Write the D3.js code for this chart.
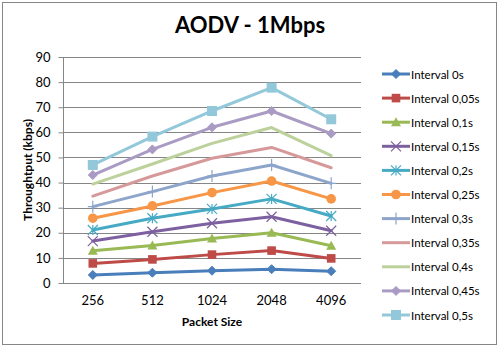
<!DOCTYPE html>
<html><head><meta charset="utf-8">
<script src="https://cdn.jsdelivr.net/npm/d3@7"></script>
<style>body{margin:0;background:#fff}svg{display:block}text{font-family:Lato,"Open Sans",sans-serif}</style>
</head><body>
<svg id="c" width="500" height="348"></svg>
<script>
const categories = ["256","512","1024","2048","4096"];
const seriesNames = ["Interval 0s","Interval 0,05s","Interval 0,1s","Interval 0,15s","Interval 0,2s","Interval 0,25s","Interval 0,3s","Interval 0,35s","Interval 0,4s","Interval 0,45s","Interval 0,5s"];
const s0   = [3.2, 4.1, 4.9, 5.5, 4.7];
const s005 = [7.8, 9.4, 11.3, 12.9, 9.8];
const s01  = [12.8, 14.9, 17.7, 20.0, 14.8];
const s015 = [16.7, 20.4, 23.8, 26.4, 20.8];
const s02  = [21.1, 25.8, 29.5, 33.5, 26.7];
const s025 = [25.8, 30.7, 36.0, 40.6, 33.5];
const s03  = [30.4, 36.4, 42.6, 47.0, 39.7];
const s035 = [34.6, 42.6, 49.7, 54.0, 45.9];
const s04  = [39.4, 47.4, 55.6, 61.9, 50.7];
const s045 = [43.0, 53.2, 62.0, 68.5, 59.5];
const s05  = [47.0, 58.3, 68.5, 77.8, 65.2];
const yTicks = [0,10,20,30,40,50,60,70,80,90];
const colors = ["#4A7EBB","#BE4B48","#98B954","#7D60A0","#46AAC5","#F79646","#8DA5CB","#D6999A","#BCD19B","#A99BC3","#93C8DA"];
const markers = ["diamond","square","triangle","x","asterisk","circle","plus","none","none","diamond","square"];
const allSeries = [s0,s005,s01,s015,s02,s025,s03,s035,s04,s045,s05];

const svg = d3.select("#c");
svg.append("rect").attr("x",2.5).attr("y",2.5).attr("width",494).attr("height",342)
  .attr("fill","#fff").attr("stroke","#868686").attr("stroke-width",1);

const pL=63, pR=361, pT=57, pB=283;
const x = d3.scaleBand().domain(categories).range([pL,pR]);
const y = d3.scaleLinear().domain([0,90]).range([pB,pT]);

// gridlines
svg.append("g").selectAll("line").data(yTicks).join("line")
  .attr("x1",pL).attr("x2",pR).attr("y1",d=>Math.round(y(d))+0.5).attr("y2",d=>Math.round(y(d))+0.5)
  .attr("stroke","#868686").attr("stroke-width",1);

// y axis
const yAxis = svg.append("g").attr("transform",`translate(${pL+0.5},0)`)
  .call(d3.axisLeft(y).tickValues(yTicks).tickSize(5).tickPadding(8));
yAxis.select(".domain").attr("stroke","#868686").attr("d",`M0,${pT}V${pB}`);
yAxis.selectAll(".tick line").attr("stroke","#868686");
yAxis.selectAll("text").attr("font-size",13).attr("fill","#000").style("font-family","Lato");

// x axis
const xAxis = svg.append("g").attr("transform",`translate(0,${pB+0.5})`)
  .call(d3.axisBottom(x).tickSize(0).tickPadding(12));
xAxis.select(".domain").attr("stroke","#868686").attr("d",`M${pL},0H${pR}`);
xAxis.selectAll("text").attr("font-size",13).attr("fill","#000").style("font-family","Lato");

// titles
svg.append("text").attr("x",250).attr("y",33).attr("text-anchor","middle")
  .attr("font-size",22).attr("font-weight","bold").text("AODV - 1Mbps");
svg.append("text").attr("x",212).attr("y",326).attr("text-anchor","middle")
  .attr("font-size",12).attr("font-weight","bold").text("Packet Size");
svg.append("text").attr("transform",`translate(32,170) rotate(-90)`).attr("text-anchor","middle")
  .attr("font-size",12).attr("font-weight","bold").text("Throughtput (kbps)");

function drawMarker(g, type, cx, cy, color, big){
  const s = big ? 5 : 4.5;
  if(type==="diamond"){
    g.append("path").attr("d",`M${cx},${cy-s}L${cx+s},${cy}L${cx},${cy+s}L${cx-s},${cy}Z`).attr("fill",color).attr("stroke",color);
  } else if(type==="square"){
    const h = big?5:4.3;
    g.append("rect").attr("x",cx-h).attr("y",cy-h).attr("width",2*h).attr("height",2*h).attr("fill",color);
  } else if(type==="triangle"){
    g.append("path").attr("d",`M${cx},${cy-5}L${cx+5},${cy+4}L${cx-5},${cy+4}Z`).attr("fill",color);
  } else if(type==="x"){
    g.append("path").attr("d",`M${cx-5},${cy-5}L${cx+5},${cy+5}M${cx-5},${cy+5}L${cx+5},${cy-5}`).attr("stroke",color).attr("stroke-width",1.2);
  } else if(type==="asterisk"){
    g.append("path").attr("d",`M${cx-5},${cy-5}L${cx+5},${cy+5}M${cx-5},${cy+5}L${cx+5},${cy-5}M${cx},${cy-5}V${cy+5}`).attr("stroke",color).attr("stroke-width",1.2);
  } else if(type==="circle"){
    g.append("circle").attr("cx",cx).attr("cy",cy).attr("r",4.8).attr("fill",color);
  } else if(type==="plus"){
    g.append("path").attr("d",`M${cx},${cy-6}V${cy+6}M${cx-5},${cy}H${cx+5}`).attr("stroke",color).attr("stroke-width",1.2);
  }
}

const line = d3.line().x((d,i)=>x(categories[i])+x.bandwidth()/2).y(d=>y(d));
allSeries.forEach((vals,k)=>{
  const g = svg.append("g");
  g.append("path").datum(vals).attr("d",line).attr("fill","none")
    .attr("stroke",colors[k]).attr("stroke-width",3).attr("stroke-linejoin","round").attr("stroke-linecap","round");
  vals.forEach((v,i)=>drawMarker(g, markers[k], x(categories[i])+x.bandwidth()/2, y(v), colors[k], k===10));
});

// legend
const leg = svg.append("g");
seriesNames.forEach((n,k)=>{
  const ly = 74 + k*24.1;
  const g = leg.append("g");
  g.append("line").attr("x1",382).attr("x2",410).attr("y1",ly).attr("y2",ly).attr("stroke",colors[k]).attr("stroke-width",3);
  drawMarker(g, markers[k], 396, ly, colors[k], k===10);
  g.append("text").attr("x",411).attr("y",ly+4.5).attr("font-size",11.5).text(n);
});
</script>
</body></html>
